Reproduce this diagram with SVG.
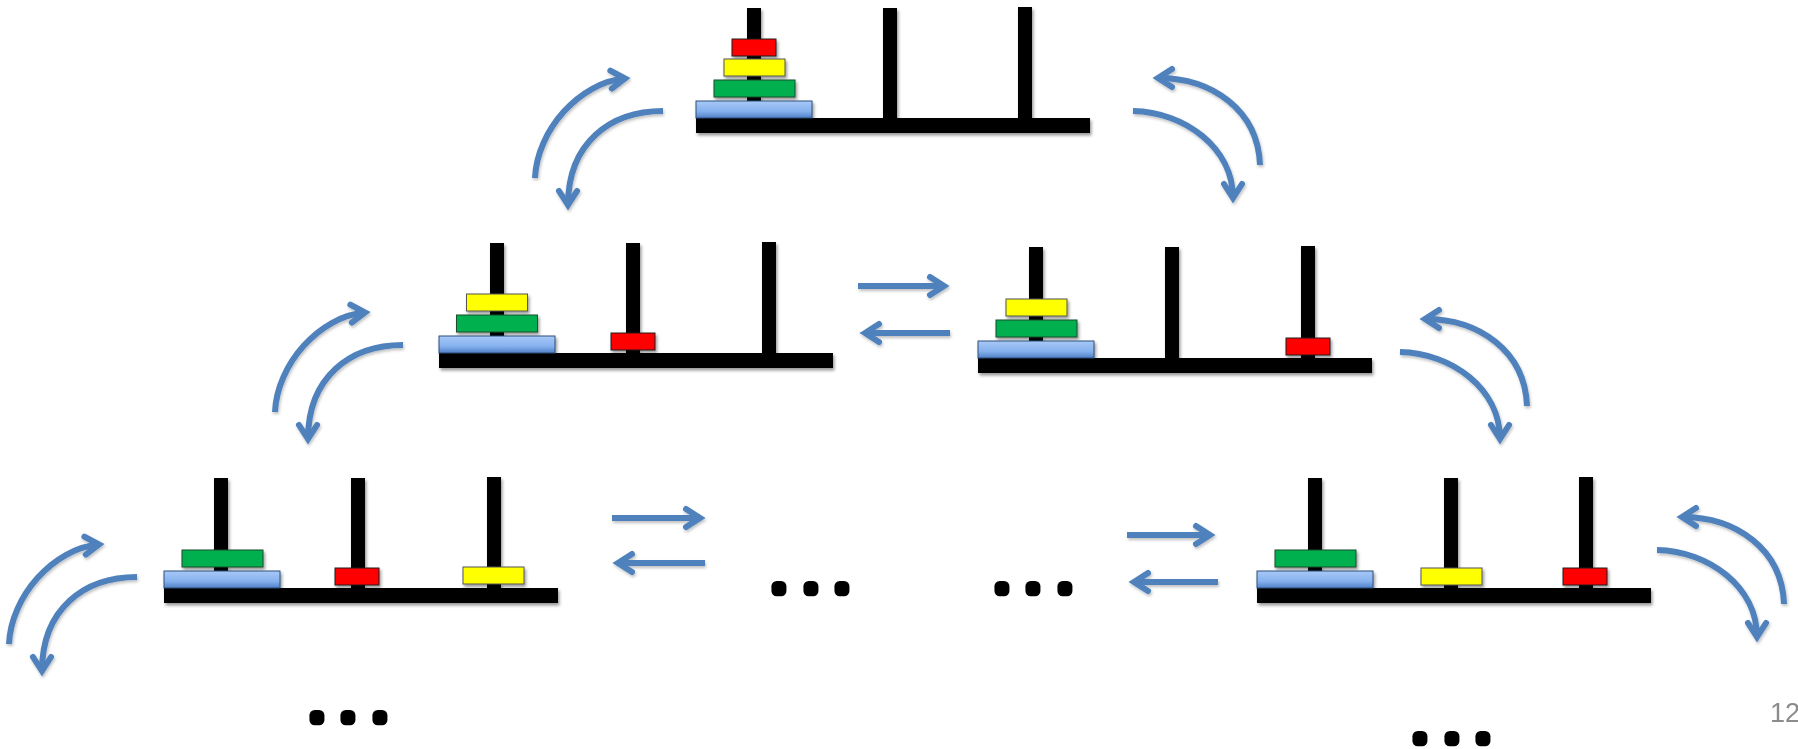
<svg xmlns="http://www.w3.org/2000/svg" width="1798" height="749" viewBox="0 0 1798 749">
  <defs>
    <style>
      .base { fill: #000; }
      .peg { fill: #000; }
      .disk { stroke: #222; stroke-width: 1; }
      .red { fill: #ff0000; }
      .yellow { fill: #ffff00; stroke: #555; }
      .green { fill: #00b050; stroke: #1d4d2c; }
      .blue { fill: url(#blueGrad); stroke: #2f4f7a; }
      .arrow { fill: none; stroke: #4f81bd; stroke-width: 6; marker-end: url(#head); }
      .dots { font-family: "Liberation Sans", Arial, sans-serif; font-weight: bold; font-size: 32px; fill: #000; stroke: #000; stroke-width: 10.5; stroke-linejoin: round; text-anchor: middle; }
      .pageno { font-family: "Liberation Sans", Arial, sans-serif; font-size: 27px; fill: #8c8c8c; }
    </style>
    <linearGradient id="blueGrad" x1="0" y1="0" x2="0" y2="1">
      <stop offset="0" stop-color="#a8c9f8"/>
      <stop offset="0.6" stop-color="#86b1ee"/>
      <stop offset="1" stop-color="#4f80c8"/>
    </linearGradient>
    <filter id="shadow" x="-5%" y="-10%" width="110%" height="130%">
      <feDropShadow dx="1.5" dy="2.5" stdDeviation="1.5" flood-color="#000" flood-opacity="0.4"/>
    </filter>
    <filter id="softShadow" x="-10%" y="-10%" width="120%" height="130%">
      <feDropShadow dx="1" dy="2" stdDeviation="1.5" flood-color="#000" flood-opacity="0.25"/>
    </filter>
    <marker id="head" markerUnits="userSpaceOnUse" viewBox="-20 -15 30 30" markerWidth="30" markerHeight="30" refX="0" refY="0" orient="auto" overflow="visible">
      <path d="M-14,-9 L0,0 L-14,9" fill="none" stroke="#4f81bd" stroke-width="6" stroke-linecap="round" stroke-linejoin="miter"/>
    </marker>
  </defs>

  <rect width="1798" height="749" fill="#fff"/>

  <!-- top state: all four disks on the first peg -->
  <g id="state-top" transform="translate(696,118)" filter="url(#shadow)">
    <rect class="base" x="0" y="0" width="394" height="15"/>
    <rect class="peg" x="51" y="-110" width="14" height="111"/>
    <rect class="peg" x="187" y="-110" width="14" height="111"/>
    <rect class="peg" x="322" y="-111" width="14" height="112"/>
    <rect class="disk blue" x="0" y="-17" width="116" height="17"/>
    <rect class="disk green" x="18" y="-38" width="81" height="17"/>
    <rect class="disk yellow" x="28" y="-59" width="61" height="17"/>
    <rect class="disk red" x="36" y="-79" width="44" height="17"/>
  </g>

  <!-- red disk moved to the middle peg -->
  <g id="state-mid-left" transform="translate(439,353)" filter="url(#shadow)">
    <rect class="base" x="0" y="0" width="394" height="15"/>
    <rect class="peg" x="51" y="-110" width="14" height="111"/>
    <rect class="peg" x="187" y="-110" width="14" height="111"/>
    <rect class="peg" x="323" y="-111" width="14" height="112"/>
    <rect class="disk blue" x="0" y="-17" width="116" height="17"/>
    <rect class="disk green" x="17.5" y="-38" width="81" height="17"/>
    <rect class="disk yellow" x="27.5" y="-59" width="61" height="17"/>
    <rect class="disk red" x="172" y="-20" width="44" height="17"/>
  </g>

  <!-- red disk moved to the right peg -->
  <g id="state-mid-right" transform="translate(978,358)" filter="url(#shadow)">
    <rect class="base" x="0" y="0" width="394" height="15"/>
    <rect class="peg" x="51" y="-111" width="14" height="112"/>
    <rect class="peg" x="187" y="-111" width="14" height="112"/>
    <rect class="peg" x="323" y="-112" width="14" height="113"/>
    <rect class="disk blue" x="0" y="-17" width="116" height="17"/>
    <rect class="disk green" x="18" y="-38" width="81" height="17"/>
    <rect class="disk yellow" x="28" y="-59" width="61" height="17"/>
    <rect class="disk red" x="308" y="-20" width="44" height="17"/>
  </g>

  <!-- red in the middle, yellow on the right -->
  <g id="state-bottom-left" transform="translate(164,588)" filter="url(#shadow)">
    <rect class="base" x="0" y="0" width="394" height="15"/>
    <rect class="peg" x="50" y="-110" width="14" height="111"/>
    <rect class="peg" x="187" y="-110" width="14" height="111"/>
    <rect class="peg" x="323" y="-111" width="14" height="112"/>
    <rect class="disk blue" x="0" y="-17" width="116" height="17"/>
    <rect class="disk green" x="18" y="-38" width="81" height="17"/>
    <rect class="disk red" x="171" y="-20" width="44" height="17"/>
    <rect class="disk yellow" x="299" y="-21" width="61" height="17"/>
  </g>

  <!-- yellow in the middle, red on the right -->
  <g id="state-bottom-right" transform="translate(1257,588)" filter="url(#shadow)">
    <rect class="base" x="0" y="0" width="394" height="15"/>
    <rect class="peg" x="51" y="-110" width="14" height="111"/>
    <rect class="peg" x="187" y="-110" width="14" height="111"/>
    <rect class="peg" x="322" y="-111" width="14" height="112"/>
    <rect class="disk blue" x="0" y="-17" width="116" height="17"/>
    <rect class="disk green" x="18" y="-38" width="81" height="17"/>
    <rect class="disk yellow" x="164" y="-20" width="61" height="17"/>
    <rect class="disk red" x="306" y="-20" width="44" height="17"/>
  </g>

  <!-- moves between states -->
  <g id="connectors" filter="url(#softShadow)">
    <!-- curved pairs on the left side -->
    <g id="left-pair-top">
      <path class="arrow" d="M535,178 C537,130 580,82 625,78.5"/>
      <path class="arrow" d="M663,111 C610,111 568,143 568,205"/>
    </g>
    <g id="left-pair-mid" transform="translate(-260,234)">
      <path class="arrow" d="M535,178 C537,130 580,82 625,78.5"/>
      <path class="arrow" d="M663,111 C610,111 568,143 568,205"/>
    </g>
    <g id="left-pair-bottom" transform="translate(-526,466)">
      <path class="arrow" d="M535,178 C537,130 580,82 625,78.5"/>
      <path class="arrow" d="M663,111 C610,111 568,143 568,205"/>
    </g>
    <!-- curved pairs on the right side -->
    <g id="right-pair-top">
      <path class="arrow" d="M1260,165 C1258,110 1212,78 1158,78"/>
      <path class="arrow" d="M1133,111 C1185,112 1233,148 1233,198"/>
    </g>
    <g id="right-pair-mid" transform="translate(267,241)">
      <path class="arrow" d="M1260,165 C1258,110 1212,78 1158,78"/>
      <path class="arrow" d="M1133,111 C1185,112 1233,148 1233,198"/>
    </g>
    <g id="right-pair-bottom" transform="translate(524,439)">
      <path class="arrow" d="M1260,165 C1258,110 1212,78 1158,78"/>
      <path class="arrow" d="M1133,111 C1185,112 1233,148 1233,198"/>
    </g>
    <!-- straight pairs -->
    <path class="arrow" d="M858,286 L944,286"/>
    <path class="arrow" d="M950,333 L865,333"/>
    <path class="arrow" d="M612,518 L700,518"/>
    <path class="arrow" d="M705,563 L618,563"/>
    <path class="arrow" d="M1127,535 L1210,535"/>
    <path class="arrow" d="M1218,582 L1134,582"/>
  </g>

  <!-- ellipses, one dot per glyph position -->
  <text class="dots" x="779 811 842" y="591">...</text>
  <text class="dots" x="1002 1033 1065" y="591">...</text>
  <text class="dots" x="317 348 380" y="720">...</text>
  <text class="dots" x="1420 1452 1483" y="741">...</text>

  <text class="pageno" x="1770" y="722">12</text>
</svg>
